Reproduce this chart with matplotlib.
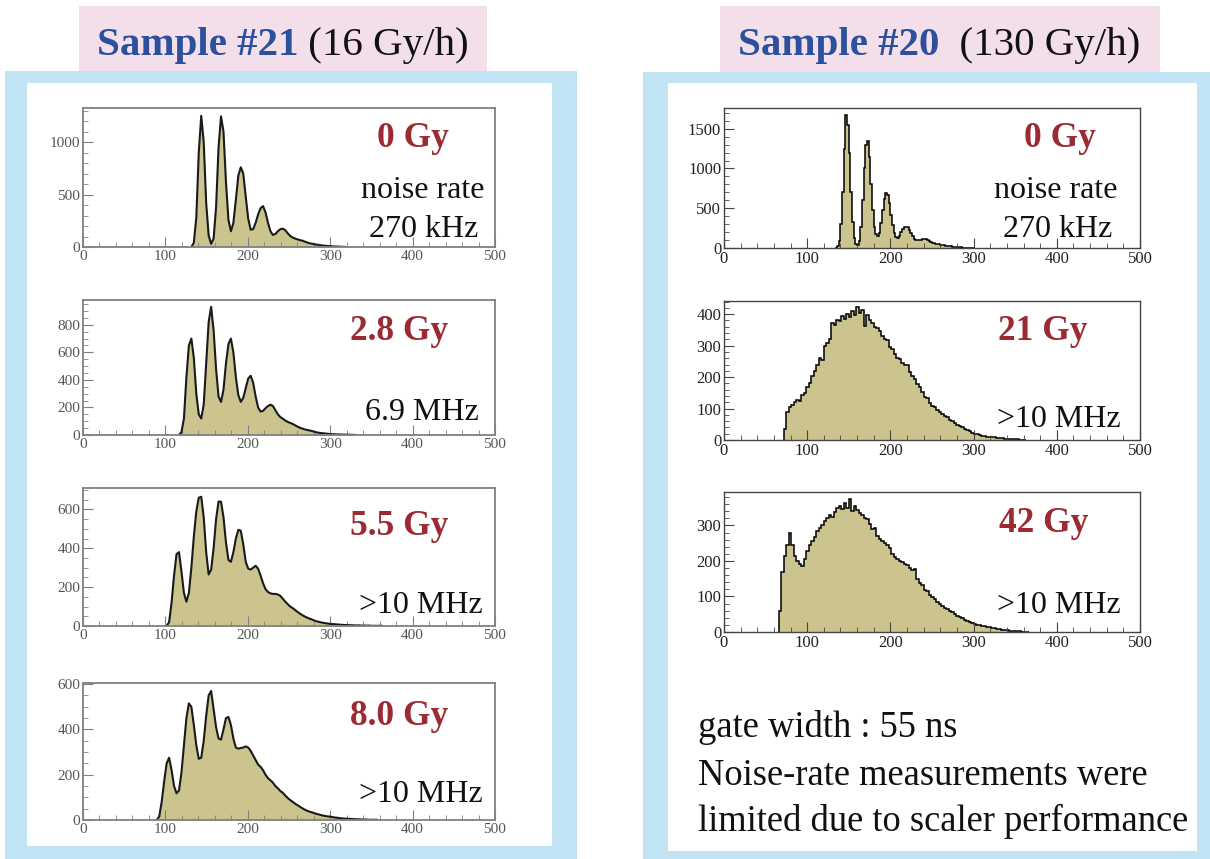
import numpy as np
import matplotlib.pyplot as plt
from matplotlib.patches import Rectangle
from matplotlib.ticker import MultipleLocator

W, H = 1210, 859
plt.rcParams['font.family'] = ['Liberation Serif', 'DejaVu Serif']

# ---------------------------------------------------------------
# histogram data (bin start, bin width, counts)
# ---------------------------------------------------------------
# Sample #21 (16 Gy/h)
s21_0gy_start, s21_0gy_width = 130, 3
s21_0gy_counts = [0, 40, 280, 900, 1250, 1000, 420, 110, 30, 80, 380, 950, 1245, 1100, 620,
                  260, 150, 230, 450, 680, 760, 700, 480, 270, 165, 170, 230, 310, 370, 390,
                  330, 230, 150, 115, 125, 150, 170, 175, 160, 130, 105, 90, 80, 72, 65, 60,
                  50, 42, 35, 30, 25, 22, 18, 14, 12, 10, 8, 6, 5, 4, 3, 2, 1]

s21_2p8gy_start, s21_2p8gy_width = 115, 3
s21_2p8gy_counts = [0, 20, 120, 420, 650, 700, 560, 300, 150, 120, 220, 520, 820, 930, 760,
                    480, 280, 240, 330, 520, 660, 700, 600, 420, 290, 240, 270, 340, 410, 430,
                    380, 280, 200, 170, 175, 195, 210, 220, 210, 180, 150, 130, 118, 105, 95,
                    88, 80, 70, 60, 52, 46, 40, 36, 32, 28, 22, 18, 15, 13, 11, 9, 7, 6, 5, 4,
                    4, 3, 3, 2, 2, 1, 1]

s21_5p5gy_start, s21_5p5gy_width = 100, 3
s21_5p5gy_counts = [0, 20, 120, 260, 370, 380, 280, 170, 125, 170, 300, 460, 590, 660, 665,
                    560, 380, 265, 290, 400, 550, 640, 640, 560, 430, 340, 330, 380, 450, 495,
                    490, 420, 330, 295, 290, 300, 310, 295, 260, 220, 190, 175, 168, 165, 165,
                    162, 155, 140, 125, 112, 100, 92, 82, 72, 63, 55, 48, 42, 37, 32, 27, 23,
                    20, 17, 15, 13, 11, 10, 9, 8, 7, 6, 5, 5, 4, 4, 3, 3, 3, 2, 2, 2, 2, 1, 1,
                    1, 1, 1]

s21_8p0gy_start, s21_8p0gy_width = 88, 3
s21_8p0gy_counts = [0, 15, 80, 170, 250, 275, 220, 150, 118, 130, 210, 330, 450, 515, 500,
                    420, 330, 270, 275, 350, 460, 550, 570, 490, 410, 360, 355, 400, 450, 455,
                    420, 360, 320, 315, 318, 320, 325, 320, 305, 285, 265, 245, 235, 220, 200,
                    185, 175, 165, 150, 140, 128, 120, 108, 97, 88, 80, 72, 65, 58, 51, 45, 40,
                    36, 33, 29, 26, 23, 20, 18, 16, 15, 13, 11, 10, 8, 7, 6, 6, 5, 4, 4, 3, 3,
                    2, 2, 2, 1, 1, 1, 1]

# Sample #20 (130 Gy/h)
s20_0gy_start, s20_0gy_width = 134, 2
s20_0gy_counts = [0, 20, 90, 300, 700, 1250, 1670, 1550, 1200, 700, 330, 130, 50, 40, 90,
                  260, 600, 1000, 1300, 1340, 1150, 800, 480, 270, 175, 150, 190, 310, 480,
                  620, 690, 670, 570, 420, 290, 190, 140, 130, 155, 195, 235, 265, 270, 262,
                  230, 185, 145, 115, 100, 98, 100, 105, 110, 112, 110, 100, 90, 78, 68, 60,
                  55, 50, 45, 40, 36, 32, 28, 25, 22, 19, 17, 15, 13, 11, 9, 8, 6, 5, 4, 3,
                  2, 2, 1]

s20_21gy_start, s20_21gy_width = 72, 3
s20_21gy_counts = [35, 88, 105, 112, 120, 128, 125, 142, 150, 168, 182, 205, 218, 240, 262,
                   255, 300, 310, 322, 372, 365, 382, 378, 395, 385, 402, 390, 410, 398, 422,
                   405, 412, 362, 398, 380, 372, 360, 355, 348, 330, 322, 318, 296, 290, 275,
                   262, 258, 245, 240, 238, 215, 205, 195, 178, 170, 152, 138, 132, 118, 108,
                   104, 96, 90, 84, 76, 72, 65, 60, 55, 48, 45, 40, 36, 33, 28, 22, 20, 18,
                   16, 14, 12, 11, 9, 8, 8, 6, 5, 5, 4, 4, 3, 3, 2, 2, 1, 1, 1]

s20_42gy_start, s20_42gy_width = 66, 3
s20_42gy_counts = [60, 170, 215, 245, 280, 245, 215, 200, 190, 185, 205, 228, 245, 255, 268,
                   285, 292, 300, 312, 322, 330, 325, 338, 350, 355, 345, 362, 350, 375, 340,
                   355, 342, 335, 330, 322, 318, 305, 290, 292, 270, 262, 256, 250, 245, 235,
                   220, 212, 205, 200, 196, 192, 188, 180, 175, 176, 150, 138, 132, 118, 115,
                   105, 98, 92, 85, 80, 74, 68, 64, 60, 56, 52, 46, 42, 38, 35, 32, 28, 25,
                   22, 20, 19, 17, 16, 15, 13, 12, 10, 9, 8, 7, 6, 5, 4, 4, 3, 2, 2, 1, 1, 1]

# ---------------------------------------------------------------
fig = plt.figure(figsize=(W / 100, H / 100), dpi=100)
bg = fig.add_axes([0, 0, 1, 1])
bg.set_xlim(0, W)
bg.set_ylim(H, 0)
bg.axis('off')

pink = '#f2dfe9'
blue = '#c0e4f3'
title_blue = '#2c4f9e'
dose_red = '#9b2a33'
fill_col = '#ccc48e'


def box(x0, y0, x1, y1, color):
    bg.add_patch(Rectangle((x0, y0), x1 - x0, y1 - y0, facecolor=color, edgecolor='none'))


# panels
box(79, 6, 487, 72, pink)
box(720, 6, 1160, 72, pink)
box(5, 71, 577, 859, blue)
box(643, 72, 1210, 859, blue)
box(27, 83, 552, 846, 'white')
box(668, 83, 1197, 851, 'white')

# titles
t1 = bg.text(97, 55, 'Sample #21', fontsize=29.5, fontweight='bold', color=title_blue,
             va='baseline', ha='left')
bg.annotate(' (16 Gy/h)', xy=(1, 0), xycoords=t1, fontsize=29.5, color='#111111',
            va='bottom', ha='left')
t2 = bg.text(738, 55, 'Sample #20', fontsize=29.5, fontweight='bold', color=title_blue,
             va='baseline', ha='left')
bg.annotate('  (130 Gy/h)', xy=(1, 0), xycoords=t2, fontsize=29.5, color='#111111',
            va='bottom', ha='left')


def hist_panel(rect, start, width, counts, ymax, ymaj, ymin, left_side):
    x0, y0, x1, y1 = rect
    ax = fig.add_axes([x0 / W, 1 - y1 / H, (x1 - x0) / W, (y1 - y0) / H])
    ax.set_facecolor('none')
    edges = start + width * np.arange(len(counts) + 1)
    if left_side:
        # the left-hand scans are blurred: draw through the bin centres
        centres = (edges[:-1] + edges[1:]) / 2
        ax.fill_between(centres, counts, color=fill_col, lw=0)
        ax.plot(centres, counts, color='#1a1a1a', lw=1.5)
    else:
        ax.stairs(counts, edges, fill=True, color=fill_col, lw=0)
        ax.stairs(counts, edges, color='black', lw=1.1)
    ax.set_xlim(0, 500)
    ax.set_ylim(0, ymax)
    ax.xaxis.set_major_locator(MultipleLocator(100))
    ax.xaxis.set_minor_locator(MultipleLocator(20))
    ax.yaxis.set_major_locator(MultipleLocator(ymaj))
    ax.yaxis.set_minor_locator(MultipleLocator(ymin))
    frame = '#808080' if left_side else '#444444'
    lab = '#555555' if left_side else '#222222'
    for s in ax.spines.values():
        s.set_color(frame)
        s.set_linewidth(1.3 if left_side else 1.0)
    ax.tick_params(which='both', direction='in', color=frame, labelcolor=lab,
                   labelsize=11 if left_side else 12, pad=2)
    ax.tick_params(which='major', length=7)
    ax.tick_params(which='minor', length=3.5)
    return ax


def label(ax, x, y, s, size, ha, bold=False, color='#111111'):
    ax.text(x, y, s, transform=bg.transData, fontsize=size, ha=ha, va='baseline',
            fontweight='bold' if bold else 'normal', color=color)


# left column
ax = hist_panel((83, 108, 495, 247), s21_0gy_start, s21_0gy_width, s21_0gy_counts, 1325, 500, 100, True)
label(ax, 449, 147, '0 Gy', 25.5, 'right', True, dose_red)
label(ax, 423, 198, 'noise rate', 23, 'center')
label(ax, 424, 237, '270 kHz', 23, 'center')

ax = hist_panel((83, 300, 495, 435), s21_2p8gy_start, s21_2p8gy_width, s21_2p8gy_counts, 980, 200, 50, True)
label(ax, 448, 340, '2.8 Gy', 25.5, 'right', True, dose_red)
label(ax, 479, 420, '6.9 MHz', 23, 'right')

ax = hist_panel((83, 488, 495, 626), s21_5p5gy_start, s21_5p5gy_width, s21_5p5gy_counts, 710, 200, 50, True)
label(ax, 448, 535, '5.5 Gy', 25.5, 'right', True, dose_red)
label(ax, 483, 613, '>10 MHz', 23, 'right')

ax = hist_panel((83, 683, 495, 820), s21_8p0gy_start, s21_8p0gy_width, s21_8p0gy_counts, 605, 200, 50, True)
label(ax, 448, 725, '8.0 Gy', 25.5, 'right', True, dose_red)
label(ax, 483, 802, '>10 MHz', 23, 'right')

# right column
ax = hist_panel((724, 108, 1140, 248), s20_0gy_start, s20_0gy_width, s20_0gy_counts, 1760, 500, 100, False)
label(ax, 1096, 147, '0 Gy', 25.5, 'right', True, dose_red)
label(ax, 1056, 198, 'noise rate', 23, 'center')
label(ax, 1058, 237, '270 kHz', 23, 'center')

ax = hist_panel((724, 301, 1140, 440), s20_21gy_start, s20_21gy_width, s20_21gy_counts, 442, 100, 20, False)
label(ax, 1088, 340, '21 Gy', 25.5, 'right', True, dose_red)
label(ax, 1121, 427, '>10 MHz', 23, 'right')

ax = hist_panel((724, 492, 1140, 632), s20_42gy_start, s20_42gy_width, s20_42gy_counts, 394, 100, 20, False)
label(ax, 1088, 532, '42 Gy', 25.5, 'right', True, dose_red)
label(ax, 1121, 613, '>10 MHz', 23, 'right')

# notes
bg.text(698, 737, 'gate width : 55 ns', fontsize=26.3, color='#111111', va='baseline')
bg.text(698, 785, 'Noise-rate measurements were', fontsize=26.3, color='#111111', va='baseline')
bg.text(698, 831, 'limited due to scaler performance', fontsize=26.3, color='#111111', va='baseline')

fig.savefig('out.png', dpi=100)
